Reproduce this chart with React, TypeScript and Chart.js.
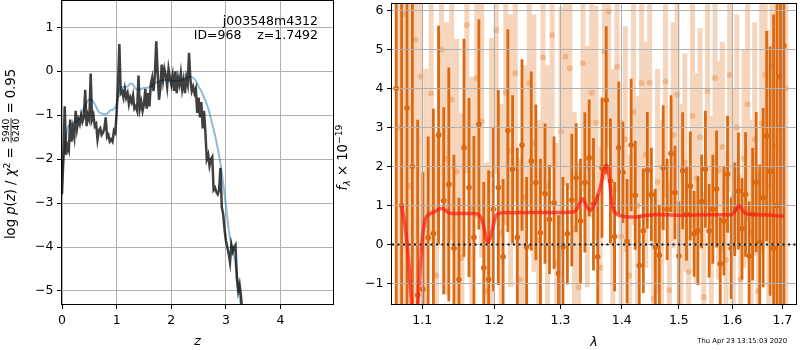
import React, { useEffect, useRef } from 'react';
import { Chart, registerables } from 'chart.js';

Chart.register(...registerables);

const FONT = '"DejaVu Sans", sans-serif';

// ---------- left panel: log p(z) ----------
const pzZ = [
  0, 0.025, 0.05, 0.075, 0.1, 0.125, 0.15, 0.175,
  0.2, 0.225, 0.25, 0.275, 0.3, 0.325, 0.35, 0.375,
  0.4, 0.425, 0.45, 0.475, 0.5, 0.525, 0.55, 0.575,
  0.6, 0.625, 0.65, 0.675, 0.7, 0.725, 0.75, 0.775,
  0.8, 0.825, 0.85, 0.875, 0.9, 0.925, 0.95, 0.975,
  1.0, 1.025, 1.05, 1.075, 1.1, 1.125, 1.15, 1.175,
  1.2, 1.225, 1.25, 1.275, 1.3, 1.325, 1.35, 1.375,
  1.4, 1.425, 1.45, 1.475, 1.5, 1.525, 1.55, 1.575,
  1.6, 1.625, 1.65, 1.675, 1.7, 1.725, 1.75, 1.775,
  1.8, 1.825, 1.85, 1.875, 1.9, 1.925, 1.95, 1.975,
  2.0, 2.025, 2.05, 2.075, 2.1, 2.125, 2.15, 2.175,
  2.2, 2.225, 2.25, 2.275, 2.3, 2.325, 2.35, 2.375,
  2.4, 2.425, 2.45, 2.475, 2.5, 2.525, 2.55, 2.575,
  2.6, 2.625, 2.65, 2.675, 2.7, 2.725, 2.75, 2.775,
  2.8, 2.825, 2.85, 2.875, 2.9, 2.925, 2.95, 2.975,
  3.0, 3.025, 3.05, 3.075, 3.1, 3.125, 3.15, 3.175,
  3.2, 3.225, 3.25, 3.275, 3.3,
];
const pzLog = [
  -2.8, -2.0, -0.8, -1.9, -1.7, -1.8, -1.1, -1.6,
  -1.3, -1.5, -0.9, -1.3, -1.1, -1.2, -1.0, -1.15,
  -1.05, -0.42, -1.25, -1.0, -1.1, -0.05, -1.1, -1.0,
  -1.25, -1.2, -1.55, -1.35, -1.3, -1.45, -1.4, -1.3,
  -1.05, -1.5, -1.45, -1.6, -1.55, -1.6, -1.35, -1.4,
  -0.95, -0.3, 0.62, -0.5, -0.45, -0.6, -0.4, -0.6,
  -0.5, -0.75, -0.6, -0.7, -0.55, -0.85, -0.8, -0.9,
  -0.1, -0.85, -0.7, -0.9, -0.75, -0.4, -0.85, -0.5,
  -0.8, -0.3, -0.15, -0.45, -0.1, 0.68, 0.0, -0.65,
  -0.4, 0.15, -0.2, 0.05, -0.1, -0.35, 0.05, -0.15,
  -0.3, -0.1, -0.45, 0.0, -0.5, -0.15, -0.3, -0.05,
  -0.4, -0.2, -0.5, -0.15, -0.3, 0.42, -0.2, -0.45,
  -0.35, -0.5, -0.4, -0.95, -0.6, -1.05, -0.7, -1.3,
  -0.9, -1.4, -2.0, -1.9, -2.15, -2.0, -1.95, -2.7,
  -2.65, -2.75, -2.8, -2.7, -2.2, -3.1, -3.25, -3.6,
  -3.85, -4.0, -4.15, -4.35, -3.95, -4.1, -4.0, -3.95,
  -4.7, -5.0, -4.85, -5.1, -5.5,
];
const pzFitZ = [
  0, 0.05, 0.1, 0.15, 0.2, 0.3, 0.4, 0.5, 0.55, 0.6,
  0.65, 0.7, 0.8, 0.9, 0.95, 1.0, 1.05, 1.1, 1.2, 1.25,
  1.3, 1.35, 1.4, 1.5, 1.6, 1.7, 1.8, 1.9, 2.0, 2.1,
  2.2, 2.3, 2.35, 2.4, 2.45, 2.5, 2.55, 2.6, 2.65, 2.7,
  2.75, 2.8, 2.85, 2.9, 2.95, 3.0, 3.05, 3.1, 3.15, 3.2,
  3.25, 3.3,
];
const pzFit = [
  -2.3, -1.75, -1.3, -1.22, -1.18, -1.1, -0.85, -0.64, -0.66, -0.75,
  -0.88, -0.95, -0.98, -0.88, -0.86, -0.75, -0.42, -0.36, -0.35, -0.28,
  -0.3, -0.4, -0.42, -0.38, -0.36, -0.27, -0.22, -0.2, -0.22, -0.22,
  -0.2, -0.14, -0.12, -0.15, -0.22, -0.35, -0.45, -0.6, -0.75, -0.95,
  -1.2, -1.45, -1.75, -2.1, -2.55, -3.05, -3.6, -3.95, -4.2, -4.6,
  -5.1, -5.6,
];
const leftXTicks = [0, 1, 2, 3, 4];
const leftYTicks = [-5, -4, -3, -2, -1, 0, 1];

// ---------- right panel: spectrum ----------
const darkWave = [
  1.066, 1.073, 1.080, 1.087, 1.094, 1.101, 1.108, 1.115, 1.122, 1.129,
  1.136, 1.143, 1.150, 1.157, 1.164, 1.171, 1.178, 1.185, 1.192, 1.199,
  1.206, 1.213, 1.220, 1.227, 1.234, 1.241, 1.248, 1.255, 1.262, 1.269,
  1.276, 1.283, 1.290, 1.297, 1.304, 1.311, 1.318, 1.325, 1.332, 1.339,
  1.346, 1.353, 1.360, 1.367, 1.374, 1.381, 1.388, 1.395, 1.402, 1.409,
  1.416, 1.423, 1.430, 1.437, 1.444, 1.451, 1.458, 1.465, 1.472, 1.479,
  1.486, 1.493, 1.500, 1.507, 1.514, 1.521, 1.528, 1.535, 1.542, 1.549,
  1.556, 1.563, 1.570, 1.577, 1.584, 1.591, 1.598, 1.605, 1.612, 1.619,
  1.626, 1.633, 1.640, 1.647, 1.654, 1.661, 1.668, 1.675, 1.682, 1.689,
  1.696, 1.703,
];
const darkFlux = [
  4.0, 1.0, 3.5, 2.0, -1.3, -1.15, 0.17, 0.28, 2.81, 1.12,
  1.54, -0.1, -0.9, 2.48, 1.46, 0.18, 3.08, -0.6, -0.9, 0.9,
  1.46, -0.32, 2.92, 1.93, 0.18, 2.55, -0.07, 2.14, 1.59, 0.3,
  1.3, 0.64, 1.07, -0.75, -0.07, 0.27, 1.14, 1.71, 0.6, 1.59,
  2.22, 1.03, -0.32, 1.97, 3.7, 1.63, 0.2, 2.48, 1.85, 0.08,
  2.55, 1.26, -0.54, 0.35, 1.9, 1.28, -0.07, -0.28, 1.97, 0.9,
  2.33, 1.33, -0.3, 1.89, 0.78, 1.5, 0.27, 0.35, 1.1, 1.93,
  0.35, 0.9, 1.42, -0.5, 0.6, 1.8, -0.1, 0.9, 1.37, 0.4,
  1.28, -0.3, 0.78, 1.6, 0.05, 1.2, 2.78, 1.88, -0.1, 1.0,
  4.3, 5.1,
];
const darkErr = [
  12, 12, 9, 8, 4.5, 3.0, 2.6, 3.2, 2.8, 2.4,
  3.0, 2.4, 2.1, 2.8, 2.3, 2.6, 2.7, 2.2, 2.8, 2.1,
  2.5, 2.0, 2.6, 1.9, 2.3, 2.2, 1.8, 2.3, 2.0, 1.9,
  1.8, 1.4, 1.7, 1.5, 1.8, 1.3, 1.7, 1.4, 1.6, 1.8,
  1.5, 1.7, 1.6, 1.8, 1.9, 1.6, 1.4, 1.7, 1.3, 1.6,
  1.7, 1.4, 1.3, 1.6, 1.5, 1.2, 1.5, 1.3, 1.6, 1.3,
  1.5, 1.2, 1.4, 1.5, 1.2, 1.4, 1.1, 1.4, 1.2, 1.5,
  1.2, 1.4, 1.5, 1.2, 1.4, 1.5, 1.3, 1.2, 1.5, 1.3,
  1.6, 1.4, 1.7, 1.8, 2.0, 2.3, 2.7, 3.2, 6.0, 9.0,
  10, 12,
];
const lightWave = [
  1.070, 1.077, 1.084, 1.091, 1.098, 1.105, 1.112, 1.119, 1.126, 1.133,
  1.140, 1.147, 1.154, 1.161, 1.168, 1.175, 1.182, 1.189, 1.196, 1.203,
  1.210, 1.217, 1.224, 1.231, 1.238, 1.245, 1.252, 1.259, 1.266, 1.273,
  1.280, 1.287, 1.294, 1.301, 1.308, 1.315, 1.322, 1.329, 1.336, 1.343,
  1.350, 1.357, 1.364, 1.371, 1.378, 1.385, 1.392, 1.399, 1.406, 1.413,
  1.420, 1.427, 1.434, 1.441, 1.448, 1.455, 1.462, 1.469, 1.476, 1.483,
  1.490, 1.497, 1.504, 1.511, 1.518, 1.525, 1.532, 1.539, 1.546, 1.553,
  1.560, 1.567, 1.574, 1.581, 1.588, 1.595, 1.602, 1.609, 1.616, 1.623,
  1.630, 1.637, 1.644, 1.651, 1.658, 1.665, 1.672, 1.679, 1.686, 1.693,
  1.700, 1.707,
];
const lightFlux = [
  3.0, 5.9, 1.5, 5.25, 4.3, 0.5, 3.87, -0.8, 5.0, 2.2,
  3.72, 1.87, -0.34, 5.63, 0.9, 4.27, 3.16, -1.2, 1.8, 5.5,
  0.3, 3.89, 2.4, 4.39, -0.9, 1.2, 4.14, 2.6, 0.1, 4.8,
  1.5, 5.37, -0.5, 2.9, 4.82, 4.52, 0.4, -1.1, 4.65, 2.0,
  3.89, 3.12, -0.6, 4.95, 5.98, 1.4, 4.56, 0.2, 2.7, -0.8,
  3.4, 1.0, 4.14, 2.3, 4.15, -1.39, 1.6, 0.5, 4.18, -1.18,
  2.8, 3.84, 0.9, 2.1, -0.7, 3.3, 1.7, 2.75, -1.35, 3.93,
  0.6, 4.27, 1.9, 2.5, -0.4, 4.35, 1.2, 3.0, -0.9, 2.2,
  3.6, 0.3, 2.7, -1.2, 3.1, 4.35, 1.5, 4.6, 2.5, 3.0,
  1.0, 4.0,
];
const lightErr = [
  12, 10, 9, 7, 4.5, 4.0, 3.8, 3.6, 3.9, 3.5,
  3.6, 3.4, 3.7, 3.8, 3.4, 3.6, 3.5, 3.3, 3.5, 3.7,
  3.3, 3.4, 3.5, 3.3, 3.1, 3.4, 3.2, 3.3, 3.1, 3.5,
  3.1, 3.4, 3.1, 3.2, 3.3, 3.1, 3.0, 3.2, 3.3, 3.1,
  3.2, 3.0, 3.1, 3.3, 3.5, 3.1, 3.2, 3.0, 2.9, 3.1,
  2.9, 2.8, 3.1, 2.9, 3.0, 2.8, 2.9, 2.7, 3.0, 2.8,
  2.9, 3.0, 2.7, 2.8, 2.7, 2.9, 2.7, 2.8, 2.7, 3.0,
  2.7, 2.9, 2.8, 2.7, 2.8, 3.0, 2.8, 2.9, 2.7, 2.8,
  3.0, 2.9, 3.0, 3.1, 3.3, 3.6, 4.0, 4.6, 6, 8,
  10, 12,
];
const modelWave = [
  1.073, 1.078, 1.082, 1.086, 1.090, 1.094, 1.098, 1.102, 1.106, 1.115,
  1.126, 1.131, 1.137, 1.160, 1.176, 1.183, 1.191, 1.197, 1.203, 1.212,
  1.250, 1.300, 1.322, 1.329, 1.335, 1.341, 1.348, 1.356, 1.364, 1.371,
  1.375, 1.379, 1.384, 1.390, 1.400, 1.420, 1.440, 1.460, 1.500, 1.550,
  1.600, 1.607, 1.614, 1.621, 1.630, 1.660, 1.703,
];
const modelFlux = [
  1.0, 0.4, -0.4, -1.5, -2.2, -1.6, -0.4, 0.45, 0.72, 0.82,
  0.92, 0.88, 0.8, 0.79, 0.78, 0.6, 0.05, 0.35, 0.75, 0.81,
  0.82, 0.82, 0.84, 1.0, 1.17, 1.0, 0.87, 1.1, 1.45, 1.95,
  2.03, 1.7, 1.0, 0.8, 0.73, 0.7, 0.74, 0.77, 0.75, 0.76,
  0.77, 0.88, 1.0, 0.85, 0.78, 0.76, 0.72,
];
const zeroLineWave = [1.0606, 1.7282];
const zeroLineFlux = [0, 0];
const rightXTicks = [1.1, 1.2, 1.3, 1.4, 1.5, 1.6, 1.7];
const rightYTicks = [-1, 0, 1, 2, 3, 4, 5, 6];

const ORANGE = 'rgb(220,105,15)';
const ORANGE_LIGHT = 'rgba(220,105,15,0.28)';
const ORANGE_LIGHT_PT = 'rgba(220,105,15,0.3)';
const GRID = '#b0b0b0';

const minusLabel = (v: number) => (v < 0 ? '\u2212' + Math.abs(v) : String(v));

type Piece = { t?: string; it?: boolean; s?: number; dy?: number; num?: string; den?: string };

function drawRotatedMath(ctx: CanvasRenderingContext2D, pieces: Piece[], bx: number, cy: number, size: number) {
  ctx.save();
  ctx.translate(bx, cy);
  ctx.rotate(-Math.PI / 2);
  ctx.fillStyle = '#000';
  ctx.textBaseline = 'alphabetic';
  ctx.textAlign = 'left';
  const font = (p: Piece) => `${p.it ? 'italic ' : ''}${size * (p.s ?? 1)}px ${FONT}`;
  const widths = pieces.map((p) => {
    ctx.font = font(p);
    if (p.num !== undefined) return Math.max(ctx.measureText(p.num).width, ctx.measureText(p.den || '').width) + 2;
    return ctx.measureText(p.t || '').width;
  });
  const total = widths.reduce((a, b) => a + b, 0);
  let x = -total / 2;
  pieces.forEach((p, i) => {
    ctx.font = font(p);
    const w = widths[i];
    if (p.num !== undefined) {
      const sz = size * (p.s ?? 1);
      const axis = -size * 0.3;
      ctx.textAlign = 'center';
      ctx.fillText(p.num, x + w / 2, axis - 1.6);
      ctx.fillText(p.den || '', x + w / 2, axis + 1.6 + sz * 0.73);
      ctx.fillRect(x + 0.5, axis - 0.4, w - 1, 0.8);
      ctx.textAlign = 'left';
    } else {
      ctx.fillText(p.t || '', x, p.dy ?? 0);
    }
    x += w;
  });
  ctx.restore();
}

function frame(ctx: CanvasRenderingContext2D, a: any) {
  ctx.save();
  ctx.strokeStyle = '#000';
  ctx.lineWidth = 1;
  const l = Math.round(a.left) - 0.5;
  const t = Math.round(a.top) - 0.5;
  const r = Math.round(a.right) + 0.5;
  const b = Math.round(a.bottom) + 0.5;
  ctx.strokeRect(l, t, r - l, b - t);
  ctx.restore();
}

const leftDecor = {
  id: 'leftDecor',
  afterDraw(chart: any) {
    const ctx: CanvasRenderingContext2D = chart.ctx;
    const a = chart.chartArea;
    frame(ctx, a);
    ctx.save();
    ctx.fillStyle = '#000';
    ctx.font = `12.5px ${FONT}`;
    ctx.textAlign = 'right';
    ctx.textBaseline = 'alphabetic';
    ctx.fillText('j003548m4312', a.right - 15, a.top + 23.5);
    ctx.fillText('ID=968    z=1.7492', a.right - 15, a.top + 38);
    ctx.font = `italic 12.5px ${FONT}`;
    ctx.textAlign = 'center';
    ctx.fillText('z', (a.left + a.right) / 2, 345);
    ctx.restore();
    drawRotatedMath(ctx, [
      { t: 'log ' }, { t: 'p', it: true }, { t: '(' }, { t: 'z', it: true }, { t: ') / ' },
      { t: 'χ', it: true }, { t: '2', s: 0.7, dy: -5 }, { t: ' = ' },
      { num: '5940', den: '6240', s: 0.7 }, { t: ' = 0.95' },
    ], 15, 154, 13.2);
  },
};

// datasets 0 (model) and 1 (zero line) are drawn by their controllers after the grid layer
const LATE = [1, 0];

const rightDecor = {
  id: 'rightDecor',
  beforeDatasetDraw(_chart: any, args: any) {
    if (LATE.includes(args.index)) return false;
    return true;
  },
  afterDraw(chart: any) {
    const ctx: CanvasRenderingContext2D = chart.ctx;
    const a = chart.chartArea;
    ctx.save();
    ctx.beginPath();
    ctx.rect(a.left, a.top, a.right - a.left, a.bottom - a.top);
    ctx.clip();
    LATE.forEach((i) => chart.getDatasetMeta(i).controller.draw());
    ctx.restore();
    frame(ctx, a);
    ctx.save();
    ctx.fillStyle = '#000';
    ctx.font = `italic 12.5px ${FONT}`;
    ctx.textAlign = 'center';
    ctx.textBaseline = 'alphabetic';
    ctx.fillText('λ', (a.left + a.right) / 2, 346);
    ctx.font = `6.8px ${FONT}`;
    ctx.textAlign = 'right';
    ctx.fillText('Thu Apr 23 13:15:03 2020', 787, 343);
    ctx.restore();
    drawRotatedMath(ctx, [
      { t: 'f', it: true }, { t: 'λ', it: true, s: 0.7, dy: 3 }, { t: ' × 10' }, { t: '\u221219', s: 0.7, dy: -5 },
    ], 347, 157.5, 13.2);
  },
};

const errSegments = (w: number[], f: number[], e: number[]) =>
  w.flatMap((x, i) => [{ x, y: f[i] - e[i] }, { x, y: f[i] + e[i] }, { x, y: null as any }]);

const tickFont = { family: FONT, size: 12.5 };

function buildLeft(canvas: HTMLCanvasElement) {
  return new Chart(canvas, {
    type: 'line',
    data: {
      datasets: [
        {
          data: pzZ.map((z, i) => ({ x: z, y: pzLog[i] })),
          borderColor: 'rgba(0,0,0,0.75)', borderWidth: 2.5, pointRadius: 0, tension: 0, order: 0,
        },
        {
          data: pzFitZ.map((z, i) => ({ x: z, y: pzFit[i] })),
          borderColor: 'rgba(31,119,180,0.5)', borderWidth: 2, pointRadius: 0,
          cubicInterpolationMode: 'monotone', order: 1,
        },
      ],
    },
    options: {
      responsive: false, animation: false, devicePixelRatio: 1,
      layout: { padding: { left: 0, top: 1, right: 467, bottom: 0 } },
      plugins: { legend: { display: false }, tooltip: { enabled: false } },
      scales: {
        x: {
          type: 'linear', min: 0, max: 4.96,
          afterBuildTicks: (s: any) => { s.ticks = leftXTicks.map((v) => ({ value: v })); },
          afterFit: (s: any) => { s.height = 46; s.paddingLeft = 0; s.paddingRight = 0; },
          grid: { color: GRID, lineWidth: 1, tickColor: '#000', tickLength: 5 },
          border: { display: false },
          ticks: { color: '#000', font: tickFont, padding: 4, maxRotation: 0, autoSkip: false, callback: (v: any) => minusLabel(Number(v)) },
        },
        y: {
          type: 'linear', min: -5.296, max: 1.598,
          afterBuildTicks: (s: any) => { s.ticks = leftYTicks.map((v) => ({ value: v })); },
          afterFit: (s: any) => { s.width = 62; s.paddingTop = 0; s.paddingBottom = 0; },
          grid: { color: GRID, lineWidth: 1, tickColor: '#000', tickLength: 5 },
          border: { display: false },
          ticks: { color: '#000', font: tickFont, padding: 3.5, autoSkip: false, callback: (v: any) => minusLabel(Number(v)) },
        },
      },
    } as any,
    plugins: [leftDecor],
  });
}

function buildRight(canvas: HTMLCanvasElement) {
  return new Chart(canvas, {
    type: 'line',
    data: {
      datasets: [
        {
          data: modelWave.map((x, i) => ({ x, y: modelFlux[i] })),
          borderColor: 'rgba(255,20,20,0.68)', borderWidth: 3.5, pointRadius: 0,
          cubicInterpolationMode: 'monotone', order: 0,
        },
        {
          data: zeroLineWave.map((x, i) => ({ x, y: zeroLineFlux[i] })),
          borderColor: '#111', borderWidth: 2, borderDash: [2, 3.5], pointRadius: 0, order: 1,
        },
        {
          data: darkWave.map((x, i) => ({ x, y: darkFlux[i] })),
          showLine: false, pointRadius: 2.8, pointBackgroundColor: ORANGE, pointBorderWidth: 0, order: 2,
        },
        {
          data: errSegments(darkWave, darkFlux, darkErr),
          borderColor: ORANGE, borderWidth: 2.8, pointRadius: 0, spanGaps: false, borderCapStyle: 'butt', order: 3,
        },
        {
          data: lightWave.map((x, i) => ({ x, y: lightFlux[i] })),
          showLine: false, pointRadius: 3, pointBackgroundColor: ORANGE_LIGHT_PT, pointBorderWidth: 0, order: 4,
        },
        {
          data: errSegments(lightWave, lightFlux, lightErr),
          borderColor: ORANGE_LIGHT, borderWidth: 5, pointRadius: 0, spanGaps: false, borderCapStyle: 'butt', order: 5,
        },
      ],
    },
    options: {
      responsive: false, animation: false, devicePixelRatio: 1,
      layout: { padding: { left: 0, top: 2, right: 2, bottom: 0 } },
      plugins: { legend: { display: false }, tooltip: { enabled: false } },
      scales: {
        x: {
          type: 'logarithmic', min: 1.0606, max: 1.7282,
          afterBuildTicks: (s: any) => { s.ticks = rightXTicks.map((v) => ({ value: v })); },
          afterFit: (s: any) => { s.height = 46; s.paddingLeft = 0; s.paddingRight = 0; },
          grid: { color: GRID, lineWidth: 1, tickColor: '#000', tickLength: 5, z: 1 },
          border: { display: false },
          ticks: { color: '#000', font: tickFont, padding: 4, maxRotation: 0, autoSkip: false, callback: (v: any) => Number(v).toFixed(1) },
        },
        y: {
          type: 'linear', min: -1.53, max: 6.17,
          afterBuildTicks: (s: any) => { s.ticks = rightYTicks.map((v) => ({ value: v })); },
          afterFit: (s: any) => { s.width = 392; s.paddingTop = 0; s.paddingBottom = 0; },
          grid: { color: GRID, lineWidth: 1, tickColor: '#000', tickLength: 5, z: 1 },
          border: { display: false },
          ticks: { color: '#000', font: tickFont, padding: 3.5, autoSkip: false, callback: (v: any) => minusLabel(Number(v)) },
        },
      },
    } as any,
    plugins: [rightDecor],
  });
}

export default function App() {
  const leftRef = useRef<HTMLCanvasElement>(null);
  const rightRef = useRef<HTMLCanvasElement>(null);
  useEffect(() => {
    const l = leftRef.current ? buildLeft(leftRef.current) : null;
    const r = rightRef.current ? buildRight(rightRef.current) : null;
    return () => { l?.destroy(); r?.destroy(); };
  }, []);
  const cs: React.CSSProperties = { position: 'absolute', left: 0, top: 0, width: 800, height: 350 };
  return (
    <div style={{ position: 'fixed', left: 0, top: 0, width: 800, height: 350, background: '#fff' }}>
      <canvas ref={leftRef} width={800} height={350} style={cs} />
      <canvas ref={rightRef} width={800} height={350} style={cs} />
    </div>
  );
}
